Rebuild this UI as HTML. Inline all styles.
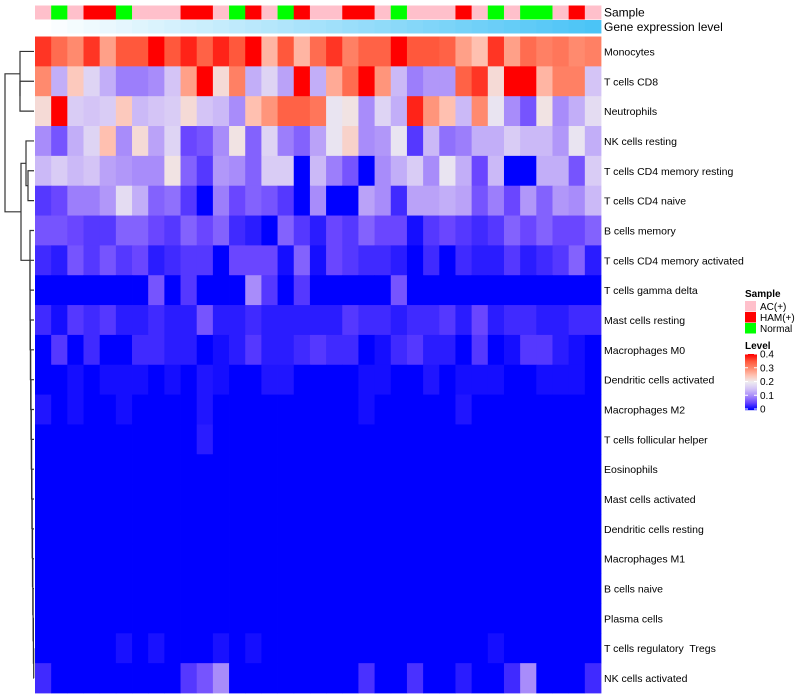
<!DOCTYPE html>
<html><head><meta charset="utf-8"><style>
body{margin:0;background:#fff;width:800px;height:700px;overflow:hidden;font-family:"Liberation Sans",sans-serif}
svg{display:block}
text{white-space:pre}
</style></head><body>
<svg id="chart" width="800" height="700" xmlns="http://www.w3.org/2000/svg" font-family="Liberation Sans, sans-serif"></svg>
<script>
const rowNames=["Monocytes","T cells CD8","Neutrophils","NK cells resting","T cells CD4 memory resting","T cells CD4 naive","B cells memory","T cells CD4 memory activated","T cells gamma delta","Mast cells resting","Macrophages M0","Dendritic cells activated","Macrophages M2","T cells follicular helper","Eosinophils","Mast cells activated","Dendritic cells resting","Macrophages M1","B cells naive","Plasma cells","T cells regulatory  Tregs","NK cells activated"];
const sampleGroups=["P","G","P","R","R","G","P","P","P","R","R","P","G","R","P","G","R","P","P","R","R","P","G","P","P","P","R","P","G","P","G","G","P","R","P"];
const r1=[0.37,0.33,0.30,0.37,0.28,0.35,0.35,0.40,0.35,0.38,0.34,0.38,0.35,0.40,0.26,0.35,0.26,0.33,0.37,0.31,0.34,0.34,0.40,0.35,0.35,0.34,0.28,0.25,0.37,0.28,0.33,0.31,0.32,0.30,0.31];
const r2=[0.30,0.13,0.24,0.17,0.13,0.09,0.09,0.10,0.15,0.28,0.40,0.22,0.31,0.13,0.17,0.12,0.40,0.13,0.27,0.33,0.40,0.29,0.14,0.09,0.11,0.11,0.34,0.37,0.22,0.40,0.40,0.26,0.31,0.31,0.15];
const r3=[0.22,0.40,0.16,0.15,0.16,0.24,0.14,0.15,0.16,0.22,0.15,0.14,0.10,0.25,0.29,0.34,0.34,0.32,0.19,0.21,0.10,0.17,0.13,0.38,0.29,0.25,0.14,0.30,0.19,0.10,0.06,0.21,0.10,0.13,0.18];
const r4=[0.10,0.06,0.13,0.17,0.25,0.10,0.22,0.12,0.17,0.05,0.06,0.10,0.21,0.07,0.17,0.09,0.07,0.12,0.19,0.23,0.10,0.11,0.19,0.04,0.14,0.08,0.09,0.13,0.13,0.16,0.14,0.14,0.11,0.19,0.13];
const r5=[0.14,0.16,0.14,0.15,0.12,0.11,0.10,0.10,0.21,0.07,0.04,0.11,0.10,0.07,0.16,0.16,0.00,0.14,0.09,0.06,0.00,0.10,0.13,0.16,0.10,0.19,0.13,0.05,0.14,0.00,0.00,0.13,0.13,0.06,0.16];
const r6=[0.04,0.05,0.09,0.09,0.11,0.18,0.13,0.07,0.08,0.04,0.00,0.09,0.05,0.07,0.06,0.04,0.00,0.10,0.00,0.00,0.12,0.10,0.03,0.12,0.12,0.13,0.12,0.06,0.09,0.05,0.11,0.07,0.11,0.10,0.14];
const r7=[0.06,0.06,0.05,0.04,0.04,0.07,0.07,0.05,0.04,0.07,0.05,0.07,0.03,0.02,0.00,0.07,0.04,0.02,0.05,0.04,0.07,0.05,0.05,0.01,0.04,0.05,0.04,0.03,0.04,0.07,0.05,0.07,0.05,0.05,0.07];
const r8=[0.03,0.02,0.06,0.04,0.06,0.04,0.05,0.02,0.03,0.04,0.04,0.00,0.05,0.05,0.05,0.01,0.07,0.01,0.05,0.04,0.03,0.03,0.02,0.00,0.03,0.00,0.03,0.02,0.02,0.04,0.02,0.03,0.04,0.07,0.02];
const r9=[0,0,0,0,0,0,0,0.06,0,0.04,0,0,0,0.10,0.04,0,0.04,0,0,0,0,0,0.06,0,0,0,0,0,0,0,0,0,0,0,0];
const r10=[0.03,0.01,0.04,0.03,0.04,0.02,0.02,0.03,0.02,0.02,0.06,0.02,0.02,0.03,0.02,0.02,0.02,0.02,0.02,0.04,0.03,0.03,0.02,0.03,0.03,0.04,0.02,0.05,0.02,0.03,0.03,0.02,0.02,0.03,0.03];
const r11=[0,0.04,0,0.03,0,0,0.03,0.03,0.02,0.02,0,0.01,0.02,0.04,0.02,0.02,0.03,0.04,0.03,0.03,0,0.01,0.03,0.04,0.02,0.02,0,0.04,0,0.01,0.04,0.04,0.02,0.01,0];
const r12=[0,0,0.01,0,0.01,0.01,0.01,0,0.01,0,0.015,0.01,0,0,0.015,0.015,0,0,0,0,0.01,0.01,0,0,0.015,0,0.01,0.01,0.01,0,0,0.01,0.01,0.01,0];
const r13=[0.015,0,0.01,0,0,0.01,0,0,0,0,0.015,0,0,0,0,0,0,0,0,0,0.01,0,0,0,0,0,0.015,0,0,0,0,0,0,0,0];
const r14=[0,0,0,0,0,0,0,0,0,0,0.02,0,0,0,0,0,0,0,0,0,0,0,0,0,0,0,0,0,0,0,0,0,0,0,0];
const r15=[0,0,0,0,0,0,0,0,0,0,0,0,0,0,0,0,0,0,0,0,0,0,0,0,0,0,0,0,0,0,0,0,0,0,0];
const r16=r15.slice(),r17=r15.slice(),r18=r15.slice(),r19=r15.slice(),r20=r15.slice();
const r21=[0,0,0,0,0,0.012,0,0.012,0,0,0,0.012,0,0.01,0,0,0,0,0,0,0,0,0,0,0,0,0,0,0.01,0,0,0,0,0,0];
const r22=[0.03,0,0,0,0,0,0,0,0,0.04,0.06,0.10,0,0,0,0,0,0,0,0,0.035,0,0,0.035,0,0,0.02,0,0,0.03,0.10,0,0,0,0.03];
const values=[r1,r2,r3,r4,r5,r6,r7,r8,r9,r10,r11,r12,r13,r14,r15,r16,r17,r18,r19,r20,r21,r22];
const levelTicks=[0,0.1,0.2,0.3,0.4];

const NS="http://www.w3.org/2000/svg";
const svg=document.getElementById('chart');
function mk(t,a,p){const e=document.createElementNS(NS,t);for(const k in a)e.setAttribute(k,a[k]);(p||svg).appendChild(e);return e;}
const stops=[[0,[0,0,255]],[0.05,[106,70,255]],[0.1,[168,140,250]],[0.15,[212,196,246]],[0.2,[238,236,240]],[0.25,[255,192,176]],[0.3,[255,138,110]],[0.35,[255,88,60]],[0.4,[255,0,0]]];
function col(v){v=Math.max(0,Math.min(0.4,v));for(let i=1;i<stops.length;i++){if(v<=stops[i][0]){const a=stops[i-1],b=stops[i],t=(v-a[0])/(b[0]-a[0]);const c=a[1].map((x,j)=>Math.round(x+(b[1][j]-x)*t));return `rgb(${c})`;}}return 'rgb(255,0,0)';}
const X0=35,X1=601,Y0=36.5,Y1=693;
const nC=sampleGroups.length,nR=values.length;
const cw=(X1-X0)/nC,rh=(Y1-Y0)/nR;
const xPos=i=>X0+i*cw, yPos=j=>Y0+j*rh;
const gColor={P:"#ffc0cb",R:"#ff0000",G:"#00ff00"};
const gA=mk('g',{});


const gG=mk('g',{});


for(let i=0;i<nC;i++){
  const r=mk('rect',{x:xPos(i),y:5.5,width:cw+0.4,height:14,fill:gColor[sampleGroups[i]]},gA);
  
  
  const t=i/(nC-1);
  const c=[255+(75-255)*t,255+(196-255)*t,255+(246-255)*t].map(Math.round);
  const g=mk('rect',{x:xPos(i),y:20,width:cw+0.4,height:13.5,fill:`rgb(${c})`},gG);
  
  
}
mk('text',{x:604,y:16.5,'font-size':12,fill:'#000'}).textContent='Sample';
mk('text',{x:604,y:31,'font-size':12,fill:'#000'}).textContent='Gene expression level';
const gH=mk('g',{});


for(let j=0;j<nR;j++){
  for(let i=0;i<nC;i++){
    const r=mk('rect',{x:xPos(i),y:yPos(j),width:cw+0.4,height:rh+0.4,fill:col(values[j][i])},gH);
    
    
  }
  const t=mk('text',{x:604,y:yPos(j)+rh/2+4,'font-size':10.5,fill:'#000'});
  t.textContent=rowNames[j];
  
  
}
const gD=mk('g',{stroke:'#333','stroke-width':1.2,fill:'none'});


const rc=j=>yPos(j)+rh/2;
function U(x,y1,y2,xl1,xl2){mk('path',{d:`M${xl1},${y1}H${x}V${y2}H${xl2}`},gD);}
U(20,rc(1),rc(2),34,34);
U(20,rc(0),(rc(1)+rc(2))/2,34,20);
U(28,rc(4),rc(5),34,34);
U(26,rc(3),(rc(4)+rc(5))/2,34,28);
let prevY=rc(21),prevX=34;
for(let j=20;j>=6;j--){const x=Math.max(30,34-(21-j)*0.3);U(x,rc(j),prevY,34,prevX);prevY=(rc(j)+prevY)/2;prevX=x;}
U(21,(rc(3)+(rc(4)+rc(5))/2)/2,prevY,26,prevX);
U(5,(rc(0)+(rc(1)+rc(2))/2)/2,((rc(3)+(rc(4)+rc(5))/2)/2+prevY)/2,20,21);
const gL=mk('g',{});


mk('text',{x:745,y:297,'font-size':10,'font-weight':'bold'},gL).textContent='Sample';
[["AC(+)","P"],["HAM(+)","R"],["Normal","G"]].forEach((e,k)=>{
  const r=mk('rect',{x:745,y:301+k*11,width:11,height:10.5,fill:gColor[e[1]]},gL);
  
  
  mk('text',{x:760,y:310+k*11,'font-size':10},gL).textContent=e[0];
});
mk('text',{x:745,y:349,'font-size':10,'font-weight':'bold'},gL).textContent='Level';
const cbTop=354,cbBot=409;
for(let k=0;k<=55;k++){const v=0.4*(1-k/55);mk('rect',{x:745,y:cbTop+k,width:12,height:1.2,fill:col(v)},gL);}
levelTicks.forEach(v=>{const y=cbBot-(v/0.4)*(cbBot-cbTop);
  mk('line',{x1:745,x2:748,y1:y,y2:y,stroke:'#fff'},gL);mk('line',{x1:754,x2:757,y1:y,y2:y,stroke:'#fff'},gL);
  mk('text',{x:760,y:y+3.5,'font-size':10},gL).textContent=String(v);});
</script>
</body></html>
